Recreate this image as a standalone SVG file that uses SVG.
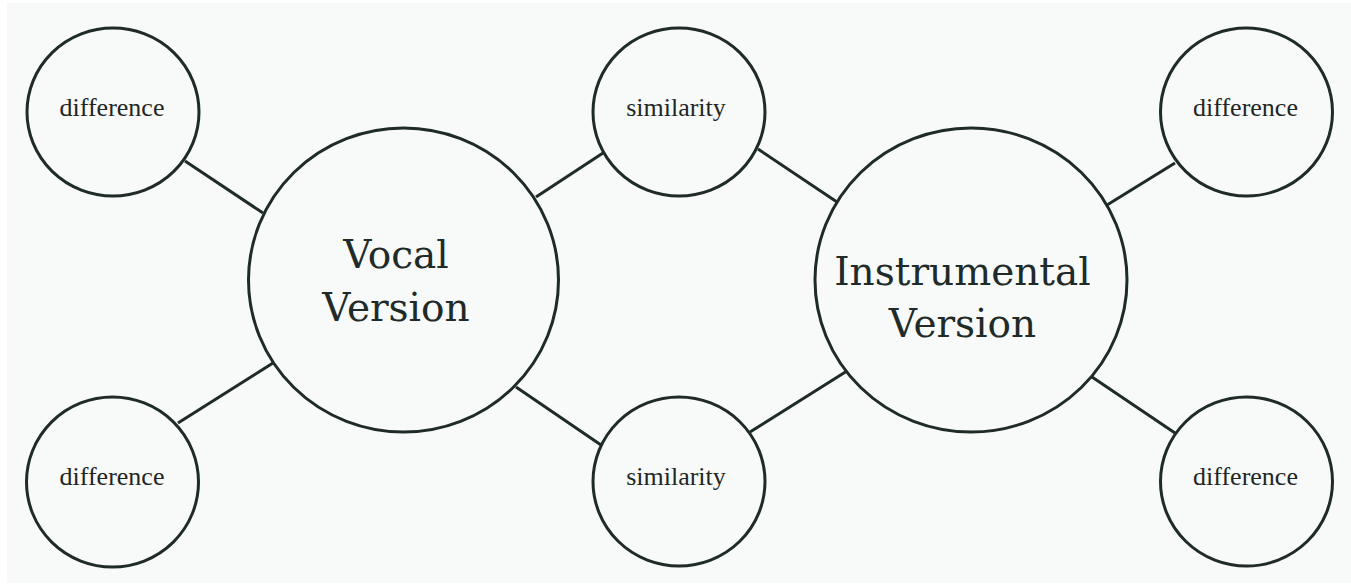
<svg xmlns="http://www.w3.org/2000/svg" width="1351" height="586" viewBox="0 0 1351 586">
  <style>
    .bubble { fill: none; stroke: #1f2b29; stroke-width: 3; }
    .link { stroke: #1f2b29; stroke-width: 3; stroke-linecap: butt; }
    .small { font-family: "Liberation Serif", "Times New Roman", serif; font-size: 26px; fill: #1f2624; text-anchor: middle; }
    .big { font-family: "DejaVu Serif", serif; font-size: 39px; fill: #1f2b29; text-anchor: middle; }
  </style>

  <!-- page -->
  <rect x="0" y="0" width="1351" height="586" fill="#ffffff"/>
  <rect x="7" y="3" width="1344" height="580" fill="#f8f9f9"/>

  <!-- connectors -->
  <g id="connectors">
    <line class="link" x1="185" y1="161" x2="263" y2="213"/>
    <line class="link" x1="178" y1="423" x2="273" y2="363"/>
    <line class="link" x1="536" y1="197" x2="603" y2="153"/>
    <line class="link" x1="516" y1="387" x2="601" y2="445"/>
    <line class="link" x1="758" y1="149" x2="837" y2="202"/>
    <line class="link" x1="750" y1="432" x2="847" y2="371"/>
    <line class="link" x1="1107" y1="205" x2="1175" y2="163"/>
    <line class="link" x1="1092" y1="377" x2="1175" y2="433"/>
  </g>

  <!-- vocal side -->
  <g id="vocal">
    <ellipse class="bubble" cx="403.5" cy="280" rx="155" ry="152"/>
    <text class="big" x="396" y="268">Vocal</text>
    <text class="big" x="396" y="321">Version</text>
  </g>
  <g id="vocal-diff-top">
    <ellipse class="bubble" cx="113" cy="112" rx="86" ry="84"/>
    <text class="small" x="112" y="116">difference</text>
  </g>
  <g id="vocal-diff-bottom">
    <ellipse class="bubble" cx="112.5" cy="482" rx="86" ry="85"/>
    <text class="small" x="112" y="485">difference</text>
  </g>

  <!-- shared -->
  <g id="sim-top">
    <ellipse class="bubble" cx="679" cy="112" rx="86" ry="84"/>
    <text class="small" x="676" y="116">similarity</text>
  </g>
  <g id="sim-bottom">
    <ellipse class="bubble" cx="679" cy="481.5" rx="86" ry="84.5"/>
    <text class="small" x="676" y="485">similarity</text>
  </g>

  <!-- instrumental side -->
  <g id="instrumental">
    <ellipse class="bubble" cx="971" cy="280" rx="156" ry="152"/>
    <text class="big" x="962.5" y="285">Instrumental</text>
    <text class="big" x="962.5" y="337">Version</text>
  </g>
  <g id="inst-diff-top">
    <ellipse class="bubble" cx="1246.5" cy="112" rx="86" ry="84"/>
    <text class="small" x="1245.5" y="116">difference</text>
  </g>
  <g id="inst-diff-bottom">
    <ellipse class="bubble" cx="1246.5" cy="481.5" rx="86" ry="84.5"/>
    <text class="small" x="1245.5" y="485">difference</text>
  </g>
</svg>
